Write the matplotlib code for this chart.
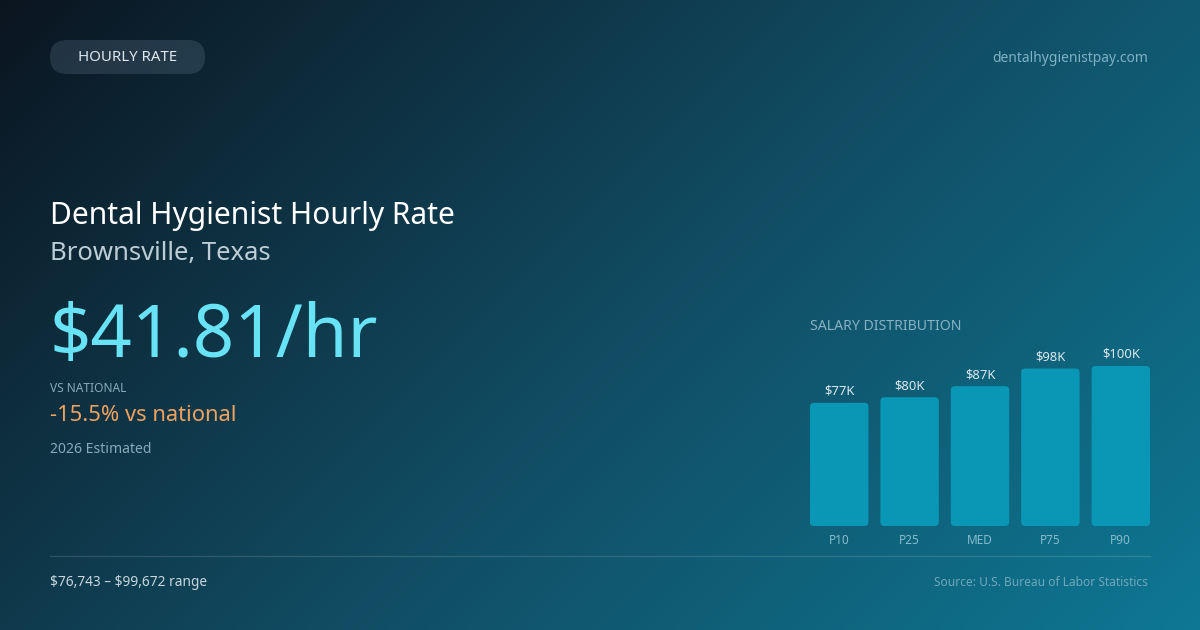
import numpy as np
import matplotlib
matplotlib.use("Agg")
import matplotlib.pyplot as plt
from matplotlib.patches import FancyBboxPatch
from matplotlib.colors import to_rgb

# ---- data ----
categories = ["P10", "P25", "MED", "P75", "P90"]
salary_k = [76.743, 80.2, 87.1, 98.1, 99.672]
bar_labels = ["$77K", "$80K", "$87K", "$98K", "$100K"]
badge_text = "HOURLY RATE"
site_text = "dentalhygienistpay.com"
title_text = "Dental Hygienist Hourly Rate"
subtitle_text = "Brownsville, Texas"
rate_text = "$41.81/hr"
vs_label = "VS NATIONAL"
vs_text = "-15.5% vs national"
est_text = "2026 Estimated"
range_text = "$76,743 \u2013 $99,672 range"
source_text = "Source: U.S. Bureau of Labor Statistics"
dist_title = "SALARY DISTRIBUTION"

plt.rcParams['font.family'] = ['Noto Sans', 'DejaVu Sans']
plt.rcParams['text.parse_math'] = False

W, H = 1200, 630
fig = plt.figure(figsize=(W / 100, H / 100), dpi=100)

# ---- background gradient ----
bg = fig.add_axes([0, 0, 1, 1])
bg.set_xlim(0, W)
bg.set_ylim(H, 0)
bg.axis("off")
yy, xx = np.mgrid[0:H, 0:W]
L = (W + H) * 0.7071
t = ((xx - W / 2) * 0.7071 + (yy - H / 2) * 0.7071) / L + 0.5
t = np.clip(t, 0, 1)
stops = [(0.0, "#0b1520"), (0.5, "#114a60"), (1.0, "#0e7894")]
img = np.zeros((H, W, 3))
for ch in range(3):
    img[..., ch] = np.interp(t, [s[0] for s in stops], [to_rgb(s[1])[ch] for s in stops])
bg.imshow(img, extent=[0, W, H, 0], aspect="auto", zorder=0)

# badge
pill = FancyBboxPatch((50, 40), 155, 34, boxstyle="round,pad=0,rounding_size=17",
                      facecolor=(0.75, 0.88, 1.0, 0.13), edgecolor="none", zorder=1)
bg.add_patch(pill)
bg.text(127.5, 57.5, badge_text, fontsize=10.8, color="#dfe8ee", ha="center", va="center", zorder=2)
bg.text(1148, 58, site_text, fontsize=10, color="#7fb0c3", ha="right", va="center", zorder=2)

# headline text
bg.text(50, 224, title_text, fontsize=21.6, color="#ffffff", ha="left", va="baseline", zorder=2)
bg.text(50, 260, subtitle_text, fontsize=18.5, color="#bccdd6", ha="left", va="baseline", zorder=2)
bg.text(49, 357, rate_text, fontsize=52.2, color="#67e3f5", ha="left", va="baseline", zorder=2)
bg.text(50, 391.5, vs_label, fontsize=8.6, color="#87a9b9", ha="left", va="baseline", zorder=2)
bg.text(50, 421, vs_text, fontsize=15.8, color="#eea25e", ha="left", va="baseline", zorder=2)
bg.text(50, 453, est_text, fontsize=10.1, color="#87a9b9", ha="left", va="baseline", zorder=2)

# footer
bg.plot([50, 1150], [556, 556], color=(1, 1, 1, 0.13), lw=1, zorder=2)
bg.text(50, 585.5, range_text, fontsize=9.9, color="#c6d6de", ha="left", va="baseline", zorder=2)
bg.text(1148, 585.5, source_text, fontsize=8.6, color="#6ea6b9", ha="right", va="baseline", zorder=2)

# distribution title
bg.text(810, 329.5, dist_title, fontsize=10.2, color="#88b1c2", ha="left", va="baseline", zorder=2)

# ---- bar chart ----
ax_x0, ax_x1, ax_bottom, ax_hpx = 810, 1150, 526, 160
ax = fig.add_axes([ax_x0 / W, (H - ax_bottom) / H, (ax_x1 - ax_x0) / W, ax_hpx / H])
ax.set_facecolor("none")
for s in ax.spines.values():
    s.set_visible(False)
x = np.arange(len(categories))
bw = 0.83
xlim = (-bw / 2, len(categories) - 1 + bw / 2)
ylim = (0, max(salary_k))
ax.set_xlim(*xlim)
ax.set_ylim(*ylim)
bars = ax.bar(x, salary_k, width=bw, color="#0a97b6")
xpp = (xlim[1] - xlim[0]) / (ax_x1 - ax_x0)
ypp = (ylim[1] - ylim[0]) / ax_hpx
for b, lab in zip(bars, bar_labels):
    b.set_visible(False)
    r = 4 * xpp
    p = FancyBboxPatch((b.get_x(), b.get_y()), b.get_width(), b.get_height(),
                       boxstyle=f"round,pad=0,rounding_size={r}", mutation_aspect=ypp / xpp,
                       facecolor="#0a97b6", edgecolor="none", clip_on=False)
    ax.add_patch(p)
    ax.annotate(lab, (b.get_x() + b.get_width() / 2, b.get_height()), xytext=(0, 5.8),
                textcoords="offset points", ha="center", va="baseline",
                fontsize=9.4, color="#dbe7ee", annotation_clip=False)
ax.set_yticks([])
ax.set_xticks(x)
ax.set_xticklabels(categories)
ax.tick_params(axis="x", length=0, pad=6.0, labelsize=8.5, labelcolor="#86bccc")

fig.savefig("out.png", dpi=100)
